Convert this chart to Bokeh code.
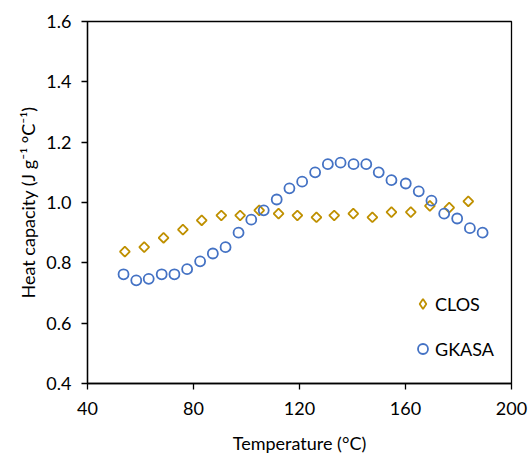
import numpy as np
from bokeh.plotting import figure
from bokeh.models import FixedTicker, PrintfTickFormatter, Legend, LegendItem, Range1d
from bokeh.embed import file_html
from bokeh.resources import INLINE

# CLOS series
clos_t = [54.1, 61.4, 68.7, 76.0, 83.1, 90.5, 97.6, 104.8, 112.1, 119.2,
          126.4, 133.1, 140.3, 147.5, 154.7, 162.0, 169.2, 176.5, 183.7]
clos_cp = [0.837, 0.852, 0.883, 0.910, 0.941, 0.957, 0.957, 0.974, 0.963, 0.957,
           0.951, 0.957, 0.963, 0.951, 0.968, 0.968, 0.989, 0.983, 1.004]

# GKASA series
gkasa_t = [53.6, 58.4, 63.1, 68.0, 72.8, 77.6, 82.5, 87.3, 92.1, 97.0,
           101.8, 106.5, 111.4, 116.2, 121.0, 125.9, 130.7, 135.5, 140.4, 145.2,
           149.9, 154.7, 160.1, 165.0, 169.8, 174.6, 179.5, 184.3, 189.1]
gkasa_cp = [0.762, 0.742, 0.747, 0.762, 0.762, 0.779, 0.805, 0.831, 0.852, 0.900,
            0.943, 0.974, 1.010, 1.047, 1.069, 1.100, 1.127, 1.132, 1.127, 1.127,
            1.100, 1.074, 1.063, 1.037, 1.006, 0.963, 0.947, 0.915, 0.900]

x_ticks = [40, 80, 120, 160, 200]
y_ticks = [0.4, 0.6, 0.8, 1.0, 1.2, 1.4, 1.6]

FONT = "Lato"
GOLD = "#BF9000"
BLUE = "#4472C4"

p = figure(width=531, height=457, output_backend="svg", toolbar_location=None,
           x_range=Range1d(40, 200), y_range=Range1d(0.4, 1.6),
           min_border_left=87, min_border_right=20, min_border_top=21,
           min_border_bottom=74)

p.xgrid.visible = False
p.ygrid.visible = False
p.outline_line_color = "black"
p.outline_line_width = 1.3

for ax in (p.xaxis[0], p.yaxis[0]):
    ax.axis_line_color = "black"
    ax.axis_line_width = 1.3
    ax.major_tick_line_color = "black"
    ax.major_tick_line_width = 1.3
    ax.major_tick_out = 6
    ax.major_tick_in = 0
    ax.minor_tick_line_color = None
    ax.major_label_text_font = FONT
    ax.major_label_text_font_size = "18px"
    ax.major_label_text_color = "black"
    ax.axis_label_text_font = FONT
    ax.axis_label_text_font_size = "18px"
    ax.axis_label_text_font_style = "normal"
    ax.axis_label_text_color = "black"

p.xaxis.ticker = FixedTicker(ticks=x_ticks)
p.yaxis.ticker = FixedTicker(ticks=y_ticks)
p.yaxis.formatter = PrintfTickFormatter(format="%.1f")
p.xaxis.axis_label = "Temperature (°C)"
p.yaxis.axis_label = "Heat capacity (J g⁻¹ °C⁻¹)"
p.xaxis.major_label_standoff = 12
p.yaxis.major_label_standoff = 10
p.xaxis.axis_label_standoff = 14
p.yaxis.axis_label_standoff = 4

r_clos = p.scatter(clos_t, clos_cp, marker="square", angle=np.pi / 4, size=7,
                   fill_color=None, line_color=GOLD, line_width=1.8)
r_gk = p.scatter(gkasa_t, gkasa_cp, marker="circle", size=10,
                 fill_color=None, line_color=BLUE, line_width=1.8)

# legend proxy for the diamond (legend glyphs ignore marker angle);
# drawn at zero size in the plot, the legend sets its own size
r_clos_leg = p.scatter(clos_t[:1], clos_cp[:1], marker="diamond", size=0,
                       fill_color=None, line_color=GOLD, line_width=1.8)

legend = Legend(items=[LegendItem(label="CLOS", renderers=[r_clos_leg]),
                       LegendItem(label="GKASA", renderers=[r_gk])],
                location=(323, 22))
legend.background_fill_alpha = 0
legend.border_line_alpha = 0
legend.padding = 0
legend.margin = 0
legend.glyph_width = 25
legend.glyph_height = 25
legend.label_height = 25
legend.spacing = 20
legend.label_standoff = 0
legend.label_text_font = FONT
legend.label_text_font_size = "18px"
legend.label_text_color = "black"
p.add_layout(legend)

open("out.html", "w").write(file_html(p, INLINE))
